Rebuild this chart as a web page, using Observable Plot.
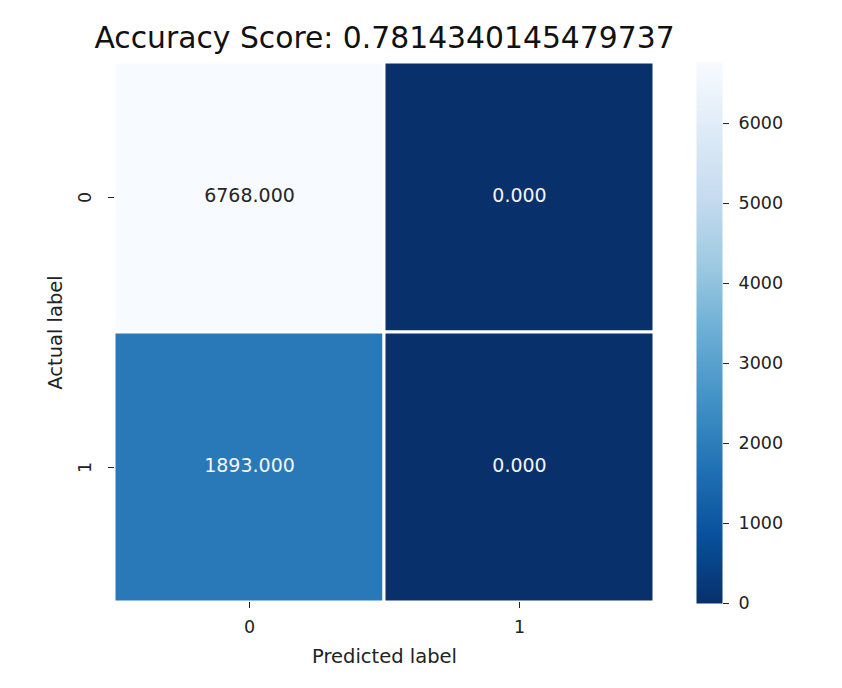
<!DOCTYPE html>
<html>
<head>
<meta charset="utf-8">
<script src="https://cdn.jsdelivr.net/npm/d3@7"></script>
<script src="https://cdn.jsdelivr.net/npm/@observablehq/plot@0.6"></script>
<style>
  html, body { margin: 0; padding: 0; background: #fff; }
  #chart { position: relative; width: 842px; height: 688px; font-family: "DejaVu Sans", sans-serif; }
  #chart svg { position: absolute; left: 0; top: 0; background: transparent; overflow: visible; }
</style>
</head>
<body>
<div id="chart"></div>
<script>
// Confusion matrix: rows = actual label, columns = predicted label
const actualLabels = ["0", "1"];
const predictedLabels = ["0", "1"];
const counts = [
  [6768, 0],
  [1893, 0]
];
const colorbarTicks = [0, 1000, 2000, 3000, 4000, 5000, 6000];

const cells = [];
actualLabels.forEach((a, i) => predictedLabels.forEach((p, j) => cells.push({actual: a, predicted: p, value: counts[i][j]})));

const total = d3.sum(cells, d => d.value);
const correct = d3.sum(cells.filter(d => d.actual === d.predicted), d => d.value);
const accuracy = correct / total;
const maxValue = d3.max(cells, d => d.value);

// matplotlib "Blues" (linear through the ColorBrewer stops), reversed
const bluesStops = ["#f7fbff", "#deebf7", "#c6dbef", "#9ecae1", "#6baed6", "#4292c6", "#2171b5", "#08519c", "#08306b"];
const blues = d3.piecewise(d3.interpolateRgb, bluesStops);
const color = {type: "linear", domain: [0, maxValue], interpolate: t => blues(1 - t)};

const W = 842, H = 688;
const font = "DejaVu Sans";
const ink = "#222";

const heatmap = Plot.plot({
  width: W, height: H,
  marginLeft: 114, marginRight: 188, marginTop: 62, marginBottom: 86,
  style: {fontFamily: font, fontSize: "17.5px", color: ink, background: "transparent"},
  x: {type: "band", domain: predictedLabels, padding: 0},
  y: {type: "band", domain: actualLabels, padding: 0},
  color,
  marks: [
    Plot.cell(cells, {x: "predicted", y: "actual", fill: "value", stroke: "white", strokeWidth: 3}),
    Plot.text(cells, {
      x: "predicted", y: "actual",
      text: d => d.value.toFixed(3),
      fill: d => d.value > maxValue * 0.6 ? "#262626" : "#f4f4f4",
      fontSize: 19,
      dy: -2
    }),
    Plot.axisX({tickSize: 6, tickPadding: 12, fontSize: 17.5, label: null}),
    Plot.axisY({tickSize: 6, tickPadding: 18, tickRotate: -90, fontSize: 17.5, label: null}),
    Plot.axisX({ticks: [], tickSize: 0, fontSize: 19.5, label: "Predicted label", labelAnchor: "center", labelArrow: "none", labelOffset: 60}),
    Plot.axisY({ticks: [], tickSize: 0, fontSize: 19.5, label: "Actual label", labelAnchor: "center", labelArrow: "none", labelOffset: 66}),
    Plot.text([`Accuracy Score: ${accuracy}`], {frameAnchor: "top", dy: -36, fontSize: 29.8, fill: "#111"})
  ]
});

const colorbar = Plot.plot({
  width: W, height: H,
  marginLeft: 696, marginRight: 120, marginTop: 61.6, marginBottom: 85,
  style: {fontFamily: font, fontSize: "17.5px", color: ink, background: "transparent"},
  x: {domain: [0, 1], axis: null},
  y: {domain: [0, maxValue], ticks: colorbarTicks},
  color,
  marks: [
    Plot.raster({x1: 0, x2: 1, y1: 0, y2: maxValue, width: 1, height: 540, fill: (x, y) => y, imageRendering: "auto"}),
    Plot.axisY({anchor: "right", ticks: colorbarTicks, tickSize: 6, tickPadding: 10, fontSize: 17.5, tickFormat: d => String(d), label: null})
  ]
});

const chart = document.getElementById("chart");
chart.appendChild(heatmap);
chart.appendChild(colorbar);
</script>
</body>
</html>
